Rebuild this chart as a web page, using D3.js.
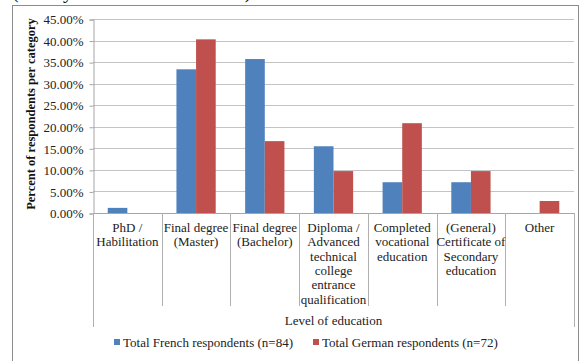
<!DOCTYPE html>
<html>
<head>
<meta charset="utf-8">
<script src="https://cdn.jsdelivr.net/npm/d3@7"></script>
<style>
  html, body { margin: 0; padding: 0; background: #fff; }
  svg { display: block; }
  svg text { font-family: "Liberation Serif", "Times New Roman", Times, "DejaVu Serif", serif; }
</style>
</head>
<body>
<svg id="chart" width="585" height="361"></svg>
<script>
// Education levels (multi-line labels) and shares per group
const categories = [
  ["PhD /", "Habilitation"],
  ["Final degree", "(Master)"],
  ["Final degree", "(Bachelor)"],
  ["Diploma /", "Advanced", "technical", "college", "entrance", "qualification"],
  ["Completed", "vocational", "education"],
  ["(General)", "Certificate of", "Secondary", "education"],
  ["Other"]
];
const frenchValues = [1.19, 33.33, 35.71, 15.48, 7.14, 7.14, 0.00];
const germanValues = [0.00, 40.28, 16.67, 9.72, 20.83, 9.72, 2.78];
const seriesNames = ["Total French respondents (n=84)", "Total German respondents (n=72)"];
const yTicks = [0, 5, 10, 15, 20, 25, 30, 35, 40, 45];

const colors = ["#4F81BD", "#C0504D"];
const serif = "'Liberation Serif', 'Times New Roman', Times, 'DejaVu Serif', serif";
const svg = d3.select("#chart");

// caption line running above the chart frame
svg.append("text")
  .attr("x", 12).attr("y", -2)
  .style("font-family", serif)
  .attr("font-size", 20).attr("fill", "#111")
  .text("(mostly Master and Bachelor).");

// chart frame
svg.append("rect")
  .attr("x", 12.5).attr("y", 5.5).attr("width", 566).attr("height", 380)
  .attr("fill", "#fff").attr("stroke", "#8c8c8c").attr("stroke-width", 1);

const plot = { left: 93, right: 574, top: 19, bottom: 213 };

const x = d3.scaleBand()
  .domain(d3.range(categories.length))
  .range([plot.left, plot.right])
  .paddingInner(0).paddingOuter(0);

const y = d3.scaleLinear().domain([0, 45]).range([plot.bottom, plot.top]);

// gridlines
svg.append("g")
  .selectAll("line").data(yTicks.filter(d => d > 0)).join("line")
  .attr("x1", plot.left).attr("x2", plot.right)
  .attr("y1", d => Math.round(y(d)) + 0.5).attr("y2", d => Math.round(y(d)) + 0.5)
  .attr("stroke", "#c4c4c4").attr("stroke-width", 1);

// y axis
const yAxis = d3.axisLeft(y)
  .tickValues(yTicks)
  .tickFormat(d => d.toFixed(2) + "%")
  .tickSize(4).tickPadding(6);
const yg = svg.append("g")
  .attr("transform", `translate(${plot.left + 0.5},0.5)`)
  .call(yAxis)
  .attr("font-family", null);
yg.select(".domain").attr("stroke", "#a6a6a6");
yg.selectAll(".tick line").attr("stroke", "#a6a6a6");
yg.selectAll(".tick text")
  .style("font-family", serif)
  .attr("font-size", 13).attr("fill", "#222");

// y axis title
svg.append("text")
  .attr("transform", `translate(35,${(plot.top + plot.bottom) / 2 - 2}) rotate(-90)`)
  .attr("text-anchor", "middle")
  .style("font-family", serif)
  .attr("font-size", 12.5).attr("font-weight", "bold").attr("fill", "#111")
  .text("Percent of respondents per category");

// bars
const barW = x.bandwidth() / 3.5;
const groups = svg.append("g").selectAll("g")
  .data(categories.map((c, i) => ({ i, vals: [frenchValues[i], germanValues[i]] })))
  .join("g");
groups.selectAll("rect")
  .data(d => d.vals.map((v, s) => ({ i: d.i, s, v })))
  .join("rect")
  .attr("x", d => x(d.i) + x.bandwidth() / 2 - barW + d.s * barW)
  .attr("width", barW)
  .attr("y", d => y(d.v))
  .attr("height", d => y(0) - y(d.v))
  .attr("fill", d => colors[d.s]);

// category axis line
svg.append("line")
  .attr("x1", plot.left).attr("x2", plot.right)
  .attr("y1", plot.bottom + 0.5).attr("y2", plot.bottom + 0.5)
  .attr("stroke", "#a6a6a6");

// category separators
const bounds = d3.range(categories.length + 1).map(i => i < categories.length ? x(i) : plot.right);
svg.append("g").selectAll("line").data(bounds).join("line")
  .attr("x1", d => Math.round(d) + 0.5).attr("x2", d => Math.round(d) + 0.5)
  .attr("y1", plot.bottom)
  .attr("y2", (d, i) => (i === 0 || i === categories.length) ? 327 : 306)
  .attr("stroke", "#b0b0b0");

// category labels
const lab = svg.append("g").selectAll("text").data(categories).join("text")
  .attr("text-anchor", "middle")
  .style("font-family", serif)
  .attr("font-size", 13).attr("fill", "#222")
  .attr("x", (d, i) => x(i) + x.bandwidth() / 2)
  .attr("y", 232);
lab.selectAll("tspan").data(d => d).join("tspan")
  .attr("x", function () { return d3.select(this.parentNode).attr("x"); })
  .attr("dy", (d, j) => j === 0 ? 0 : 14.3)
  .text(d => d);

// axis group title
svg.append("text")
  .attr("x", (plot.left + plot.right) / 2).attr("y", 325)
  .attr("text-anchor", "middle")
  .style("font-family", serif)
  .attr("font-size", 13).attr("fill", "#222")
  .text("Level of education");

// legend
const legendX = [114, 313];
const leg = svg.append("g").selectAll("g").data(seriesNames).join("g")
  .attr("transform", (d, i) => `translate(${legendX[i]},342)`);
leg.append("rect")
  .attr("x", 0).attr("y", -3).attr("width", 6).attr("height", 6)
  .attr("fill", (d, i) => colors[i]);
leg.append("text")
  .attr("x", 9).attr("y", 4.5)
  .style("font-family", serif)
  .attr("font-size", 13).attr("fill", "#222")
  .text(d => d);
</script>
</body>
</html>
